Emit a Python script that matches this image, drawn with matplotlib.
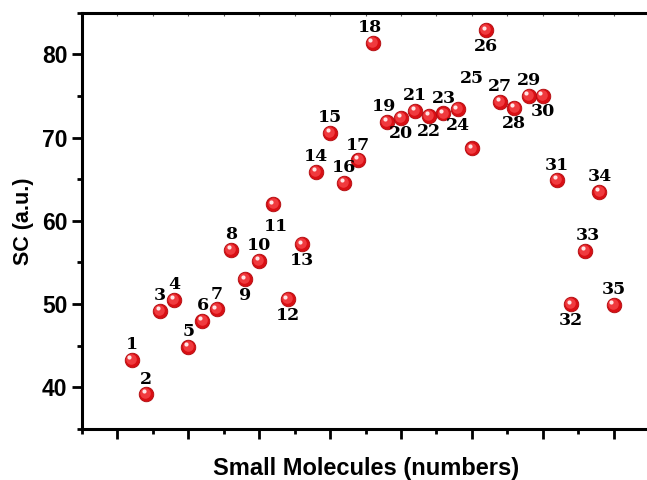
import matplotlib
matplotlib.use("Agg")
import matplotlib.pyplot as plt
from matplotlib.ticker import MultipleLocator, NullFormatter
from matplotlib.transforms import offset_copy

# ============================================
# Data
# ============================================

molecule_ids = list(range(1, 36))
sc_values = [
    43.3, 39.2, 49.2, 50.5, 44.9, 48.0, 49.4, 56.5, 53.0, 55.2,
    62.0, 50.6, 57.2, 65.9, 70.6, 64.6, 67.3, 81.4, 71.9, 72.4,
    73.2, 72.6, 72.9, 73.4, 68.7, 82.9, 74.3, 73.6, 75.0, 75.0,
    64.9, 50.0, 56.4, 63.5, 49.9,
]
point_labels = [str(i) for i in molecule_ids]

# label placement: "a" = above the point, "b" = below
label_side = [
    "a", "a", "a", "a", "a", "a", "a", "a", "b", "a",
    "b", "b", "b", "a", "a", "a", "a", "a", "a", "b",
    "a", "b", "a", "b", "a", "b", "a", "b", "a", "b",
    "a", "b", "a", "a", "a",
]
# a few labels sit a bit off the usual spot (pixels: dx, dy)
label_tweak = {11: (3, -6), 18: (-3, 0), 19: (-3, 0), 25: (0, 55), 33: (3, 0)}

# ============================================
# Figure
# ============================================

fig = plt.figure(figsize=(6.47, 4.8), dpi=100)
ax = fig.add_axes([82 / 647, 51 / 480, 567 / 647, 416.3 / 480])

# glossy red spheres: base, softer inner shade, white highlight
ax.scatter(molecule_ids, sc_values, s=110, color="#d90f14",
           edgecolor="#b00a0e", linewidth=0.6, zorder=3)
shade = offset_copy(ax.transData, fig=fig, x=-0.8, y=0.8, units="dots")
ax.scatter(molecule_ids, sc_values, s=58, color="#f03a3e", linewidth=0,
           transform=shade, zorder=4)
glint = offset_copy(ax.transData, fig=fig, x=-2.2, y=2.6, units="dots")
ax.scatter(molecule_ids, sc_values, s=9, color="#ffe6e6", linewidth=0,
           transform=glint, zorder=5)

for x, y, txt, side in zip(molecule_ids, sc_values, point_labels, label_side):
    dy = 15 if side == "a" else -16
    dx, extra = label_tweak.get(x, (0, 0))
    ax.annotate(txt, (x, y), xytext=(dx, dy + extra), textcoords="offset pixels",
                ha="center", va="center", fontsize=12.5, fontweight="bold",
                family="DejaVu Serif", color="black", zorder=6)

ax.set_xlim(-2.5, 37.5)
ax.set_ylim(35, 85)

ax.xaxis.set_major_locator(MultipleLocator(5))
ax.xaxis.set_minor_locator(MultipleLocator(2.5))
ax.xaxis.set_major_formatter(NullFormatter())
ax.yaxis.set_major_locator(MultipleLocator(10))
ax.yaxis.set_minor_locator(MultipleLocator(5))

for side in ["left", "bottom", "top"]:
    ax.spines[side].set_linewidth(2.2)
ax.spines["right"].set_visible(False)

ax.tick_params(which="major", direction="out", length=7, width=2, labelsize=16.5)
ax.tick_params(which="minor", direction="out", length=3.5, width=2)
for lbl in ax.get_yticklabels():
    lbl.set_fontweight("bold")
    lbl.set_family("Liberation Sans")

# small inward ticks along the top edge
top = ax.secondary_xaxis("top")
top.xaxis.set_major_locator(MultipleLocator(2.5))
top.tick_params(direction="in", length=2.5, width=0.8, colors="#555555",
                labeltop=False)
top.spines["top"].set_visible(False)

ax.set_xlabel("Small Molecules (numbers)", fontsize=17, fontweight="bold",
              family="Liberation Sans", va="center")
ax.xaxis.set_label_coords(284 / 567, -39 / 416.3)
ax.set_ylabel("SC (a.u.)", fontsize=15.5, fontweight="bold",
              family="Liberation Sans", labelpad=6)

fig.savefig("out.png", dpi=100)
